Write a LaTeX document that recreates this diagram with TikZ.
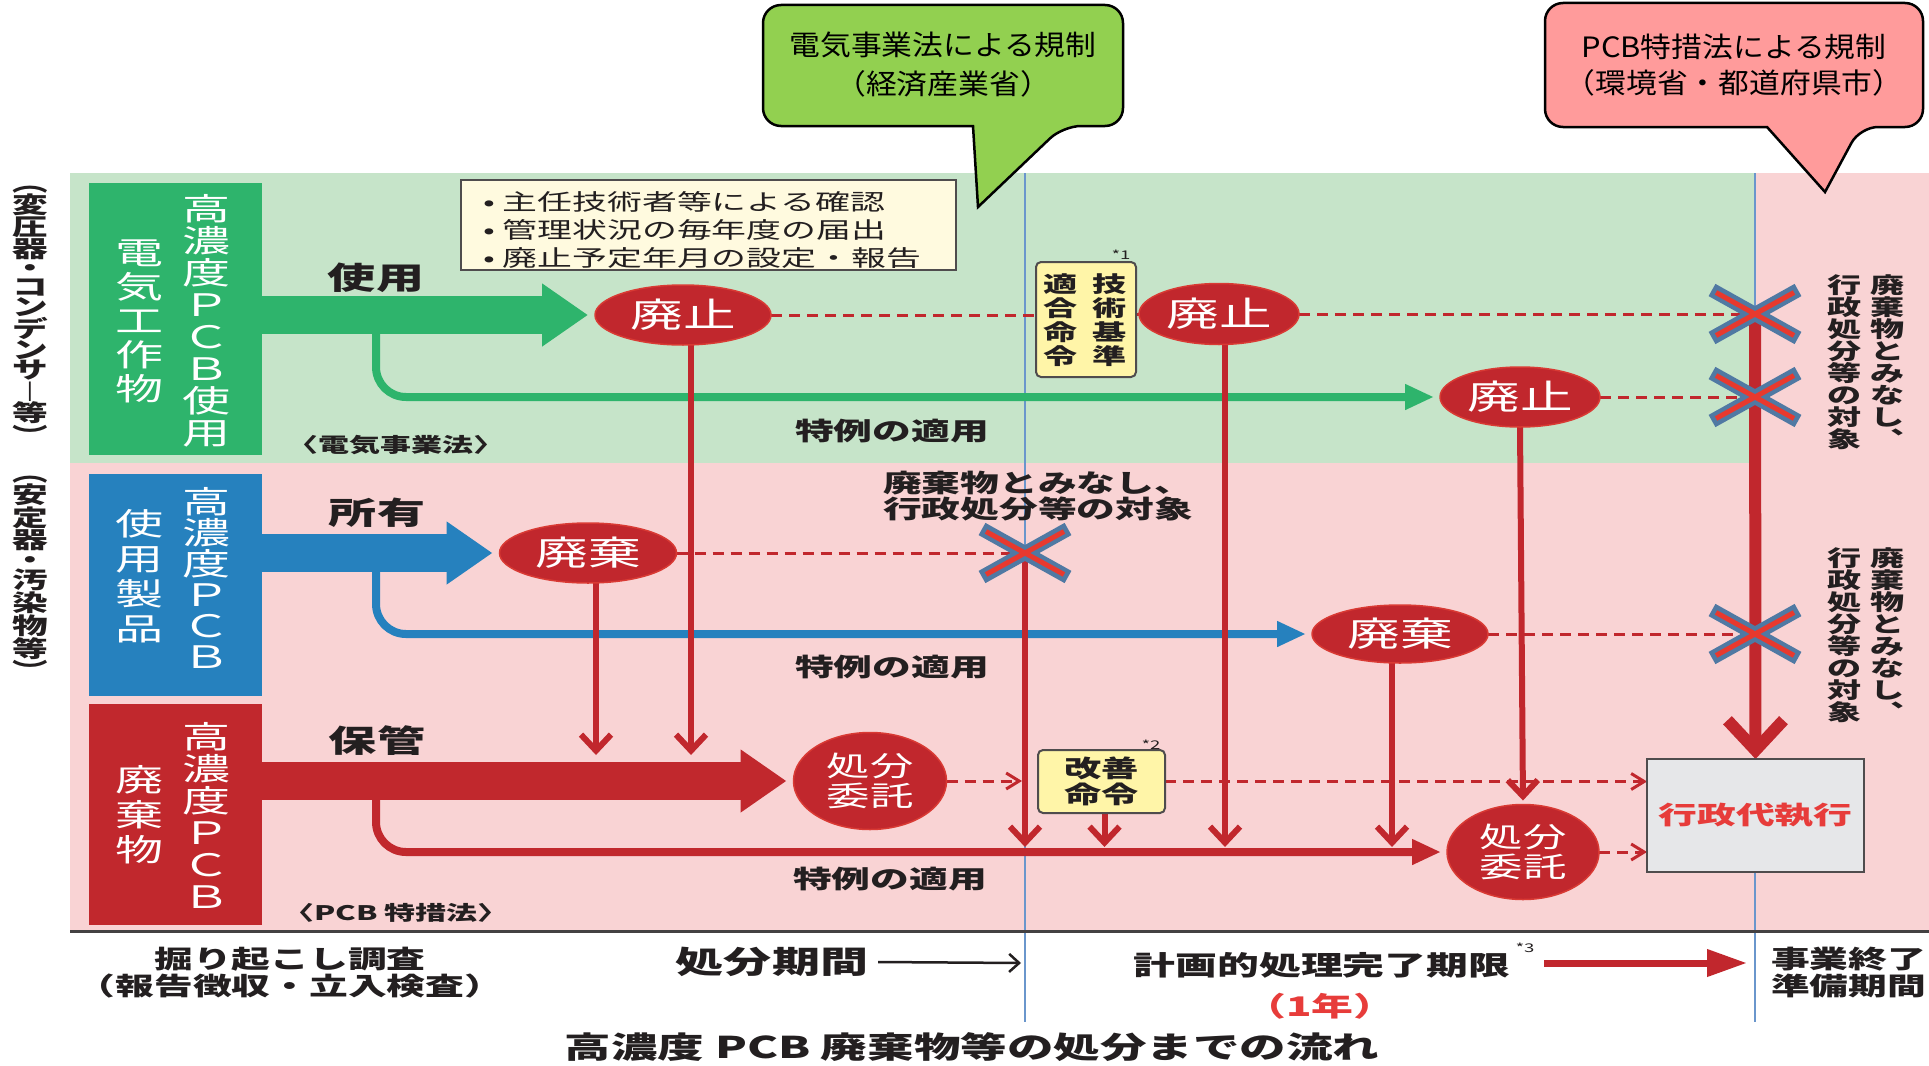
\documentclass[tikz,border=0pt]{standalone}
\usepackage{fontspec}
\usetikzlibrary{arrows.meta,shapes.geometric}
\pgfdeclarelayer{back}
\pgfdeclarelayer{mid}
\pgfsetlayers{back,mid,main}
\newfontfamily\jp[FakeStretch=1.55]{Noto Sans CJK JP}
\newfontfamily\jpc[FakeStretch=1.1]{Noto Sans CJK JP}
\newcommand\fs[2]{\fontsize{#1}{#2}\selectfont}
\definecolor{bgG}{HTML}{C6E4C9}
\definecolor{bgP}{HTML}{F9D3D4}
\definecolor{boxG}{HTML}{2EB46C}
\definecolor{boxB}{HTML}{2681BE}
\definecolor{boxR}{HTML}{C1282D}
\definecolor{pr}{HTML}{C1272D}
\definecolor{ellR}{HTML}{D93A34}
\definecolor{xr}{HTML}{E8392E}
\definecolor{xb}{HTML}{5079A3}
\definecolor{per}{HTML}{6A96CC}
\definecolor{callG}{HTML}{92D050}
\definecolor{callP}{HTML}{FF9B9B}
\definecolor{yel}{HTML}{FFF5A8}
\definecolor{cream}{HTML}{FFFADF}
\definecolor{grayf}{HTML}{E6E7E9}
\definecolor{redt}{HTML}{E73C3A}
\definecolor{dk}{HTML}{231F20}
\tikzset{
  xm/.pic={
    \draw[xb, line width=14pt] (-43,-24) -- (43,24) (-43,24) -- (43,-24);
    \draw[xr, line width=5pt] (-39,-21.5) -- (39,21.5) (-39,21.5) -- (39,-21.5);
  }
}
\begin{document}
\begin{tikzpicture}[x=1pt,y=-1pt,
  every node/.style={inner sep=0pt,outer sep=0pt},
  lbl/.style={font=\jp\bfseries\fs{#1}{#1}, text=dk},
  vt/.style={align=center, text=dk, font=\jp\bfseries\fs{22}{22}},
  vtw/.style={align=center, text=white, font=\jp\fs{31}{#1}},
  ell/.style={ellipse, fill=pr, draw=ellR, line width=1.5pt, text=white, font=\jp\fs{34}{34}},
  ell2/.style={ellipse, fill=pr, draw=ellR, line width=1.5pt, text=white, align=center, font=\jp\fs{28}{30}},
  ybox/.style={draw=dk!80, fill=yel, line width=2pt, rounded corners=5pt},
  dsh/.style={pr, line width=3pt, dash pattern=on 11pt off 7pt},
  dtip/.style={-{Straight Barb[length=13pt,width=16pt]}},
  vl/.style={pr, line width=6pt, -{Straight Barb[length=16pt,width=30pt]}},
  bendarr/.style={line width=8pt, rounded corners=30pt, -{Triangle[length=29pt,width=24pt]}, shorten >=6pt},
  bigarr/.style={line width=38pt, -{Triangle[length=46pt,width=60pt]}, shorten >=7pt}
]
\useasboundingbox (0,0) rectangle (1929,1065);
\begin{pgfonlayer}{back}
\fill[white] (0,0) rectangle (1929,1065);
\fill[bgP] (70,173) rectangle (1929,931);
\fill[bgG] (70,173) rectangle (1755,463);
\draw[per, line width=2.5pt] (1025,173) -- (1025,1022) (1755,173) -- (1755,1022);
\draw[dk!85, line width=3pt] (70,931) -- (1929,931);
\end{pgfonlayer}

% left category boxes
\node[fill=boxG, minimum width=173pt, minimum height=272pt] (gbox) at (175.5,319) {};
\node[fill=boxB, minimum width=173pt, minimum height=222pt] (bbox) at (175.5,585) {};
\node[fill=boxR, minimum width=173pt, minimum height=221pt] (rbox) at (175.5,814.5) {};
\node[vtw=32] (gt1) at (207,321) {高\\濃\\度\\Ｐ\\Ｃ\\Ｂ\\使\\用};
\node[vtw=34] (gt2) at (140,321) {電\\気\\工\\作\\物};
\node[vtw=31] (bt1) at (207,578) {高\\濃\\度\\Ｐ\\Ｃ\\Ｂ};
\node[vtw=35] (bt2) at (140,576) {使\\用\\製\\品};
\node[vtw=32] (rt1) at (207,815) {高\\濃\\度\\Ｐ\\Ｃ\\Ｂ};
\node[vtw=35] (rt2) at (140,815) {廃\\棄\\物};
\node[vt, font=\jp\bfseries\fs{23}{19.2}] (lv1) at (30,315) {︵\\変\\圧\\器\\・\\コ\\ン\\デ\\ン\\サ\\︱\\等\\︶};
\node[vt, font=\jp\bfseries\fs{23}{19.2}] (lv2) at (30,578) {︵\\安\\定\\器\\・\\汚\\染\\物\\等\\︶};

% ellipses
\node[ell, minimum width=176pt, minimum height=60pt] (e1) at (683,315) {廃止};
\node[ell, minimum width=160pt, minimum height=61pt] (e2) at (1219,314) {廃止};
\node[ell, minimum width=160pt, minimum height=60pt] (e3) at (1520,397) {廃止};
\node[ell, minimum width=177pt, minimum height=60pt] (w1) at (588,553) {廃棄};
\node[ell, minimum width=176pt, minimum height=58pt] (w2) at (1400,634) {廃棄};
\node[ell2, minimum width=153pt, minimum height=97pt] (s1) at (870,781) {処分\\委託};
\node[ell2, minimum width=152pt, minimum height=95pt] (s2) at (1523,852) {処分\\委託};

% boxes
\node[ybox, minimum width=100pt, minimum height=115pt] (kj) at (1086,319.5) {};
\node[vt, font=\jp\bfseries\fs{22}{24}] (kj1) at (1110,320) {技\\術\\基\\準};
\node[vt, font=\jp\bfseries\fs{22}{24}] (kj2) at (1061,320) {適\\合\\命\\令};
\node[font=\jp\fs{12}{12}, text=dk] (n1) at (1121,255) {*1};
\node[ybox, minimum width=127pt, minimum height=63pt, align=center, font=\jp\bfseries\fs{24}{26}, text=dk] (kz) at (1101.5,781.5) {改善\\命令};
\node[font=\jp\fs{12}{12}, text=dk] (n2) at (1151,745) {*2};
\node[draw=dk!80, line width=2.5pt, fill=grayf, minimum width=217pt, minimum height=113pt, text=redt, font=\jp\bfseries\fs{25}{25}] (gy) at (1755.5,815.5) {行政代執行};
\node[draw=dk!80, line width=2pt, fill=cream, minimum width=495pt, minimum height=90pt] (bl) at (708.5,225) {};
\node[anchor=west, align=left, font=\jp\fs{22.5}{28}, text=dk] (blt) at (483,230) {• 主任技術者等による確認\\• 管理状況の毎年度の届出\\• 廃止予定年月の設定・報告};

% X marks
\coordinate (x1) at (1025,553);
\coordinate (x2) at (1755,314);
\coordinate (x3) at (1755,397);
\coordinate (x4) at (1755,634);

% connectors
\coordinate (gb) at (376,314);
\coordinate (bb) at (376,551);
\coordinate (rb) at (376,781);
\coordinate (y1) at (0,755);
\coordinate (y2) at (0,847);
\coordinate (r1) at (1022,781);
\coordinate (e1b) at ([xshift=8pt]e1.south);
\coordinate (w1b) at ([xshift=8pt]w1.south);
\coordinate (kzb) at ([xshift=3pt]kz.south);
\coordinate (e2b) at ([xshift=6pt]e2.south);
\coordinate (w2b) at ([xshift=-8pt]w2.south);
\begin{pgfonlayer}{mid}
\draw[boxG, bendarr] (gb) |- (e3.west);
\draw[boxB, bendarr] (bb) |- (w2.west);
\draw[boxR, bendarr] (rb) |- (s2.west);
\draw[boxG, bigarr] (gbox.east |- e1.west) -- (e1.west);
\draw[boxB, bigarr] (bbox.east |- w1.west) -- (w1.west);
\draw[boxR, bigarr] (rbox.east |- s1.west) -- (s1.west);
\draw[dsh] (e1.east) -- (kj.west |- e1.east);
\draw[dsh] (kj.east |- e2.west) -- (e2.west);
\draw[dsh] (e2.east) -- (x2);
\draw[dsh] (e3.east) -- (x3);
\draw[dsh] (w1.east) -- (x1);
\draw[dsh] (w2.east) -- (x4);
\draw[dsh, dtip] (s1.east) -- (r1);
\draw[dsh, dtip] (kz.east) -- (gy.west |- kz.east);
\draw[dsh, dtip] (s2.east) -- (gy.west |- s2.east);
\draw[vl] (e1b) -- (e1b |- y1);
\draw[vl] (w1b) -- (w1b |- y1);
\draw[vl] (x1) -- (x1 |- y2);
\draw[vl] (kzb) -- (kzb |- y2);
\draw[vl] (e2b) -- (e2b |- y2);
\draw[vl] (w2b) -- (w2b |- y2);
\draw[vl, shorten >=4pt] (e3.south) -- (s2.north);
\draw[pr, line width=12pt, -{Straight Barb[length=30pt,width=56pt]}] (x2) -- (gy.north);
\end{pgfonlayer}
\pic at (x1) {xm};
\pic at (x2) {xm};
\pic at (x3) {xm};
\pic at (x4) {xm};

% labels
\node[lbl=31] (l1) at (376,278) {使用};
\node[lbl=31] (l2) at (377,513) {所有};
\node[lbl=31] (l3) at (377,741) {保管};
\node[lbl=25] (t1) at (892,431) {特例の適用};
\node[lbl=25] (t2) at (892,667) {特例の適用};
\node[lbl=25] (t3) at (890,879) {特例の適用};
\node[lbl=20] (law1) at (396,445) {〈電気事業法〉};
\node[lbl=20] (law2) at (396,913) {〈PCB 特措法〉};
\node[lbl=25, align=left, anchor=west, font=\jp\bfseries\fs{25}{26}] (mid) at (883,496) {廃棄物とみなし、\\行政処分等の対象};
\node[vt, anchor=north] (rv1a) at (1888,275) {廃\\棄\\物\\と\\み\\な\\し\\︑};
\node[vt, anchor=north] (rv1b) at (1845,275) {行\\政\\処\\分\\等\\の\\対\\象};
\node[vt, anchor=north] (rv2a) at (1888,548) {廃\\棄\\物\\と\\み\\な\\し\\︑};
\node[vt, anchor=north] (rv2b) at (1845,548) {行\\政\\処\\分\\等\\の\\対\\象};

% bottom band
\node[lbl=25, align=center, font=\jp\bfseries\fs{25}{27}] (b1) at (290,973) {掘り起こし調査\\（報告徴収・立入検査）};
\node[lbl=31] (b2) at (772,962) {処分期間};
\coordinate (b2e) at (1021,963);
\draw[dk, line width=2.5pt, -{Straight Barb[length=10pt,width=18pt]}] ([xshift=10pt]b2.east) -- (b2e);
\node[lbl=27] (b3) at (1322,965) {計画的処理完了期限};
\node[font=\jp\fs{12}{12}, text=dk] (n3) at (1525,948) {*3};
\node[lbl=27, text=redt] (b4) at (1320,1006) {（1年）};
\coordinate (b5e) at (1747,963);
\coordinate (b5s) at (1544,963);
\draw[pr, line width=7pt, -{Triangle[length=40pt,width=26pt]}] (b5s) -- (b5e);
\node[lbl=25, align=left, anchor=west, font=\jp\bfseries\fs{25}{27}] (b6) at (1771,973) {事業終了\\準備期間};
\node[lbl=30] (title) at (972,1047) {高濃度 PCB 廃棄物等の処分までの流れ};

% callouts
\draw[fill=callG, draw=black, line width=2.5pt] (763,60) [rounded corners=18pt] -- (763,5) -- (1123,5) -- (1123,126) -- (1063,126) [sharp corners] -- (978,207) -- (973,126) [rounded corners=18pt] -- (763,126) -- cycle;
\node[font=\jpc\fs{28}{39}, align=center, text=black] (c1t) at (943,65) {電気事業法による規制\\（経済産業省）};
\draw[fill=callP, draw=black, line width=2.5pt] (1545,60) [rounded corners=18pt] -- (1545,3) -- (1923,3) -- (1923,127) -- (1860,127) [sharp corners] -- (1825,192) -- (1767,127) [rounded corners=18pt] -- (1545,127) -- cycle;
\node[font=\jpc\fs{28}{36}, align=center, text=black] (c2t) at (1734,65) {PCB特措法による規制\\（環境省・都道府県市）};
\end{tikzpicture}
\end{document}
